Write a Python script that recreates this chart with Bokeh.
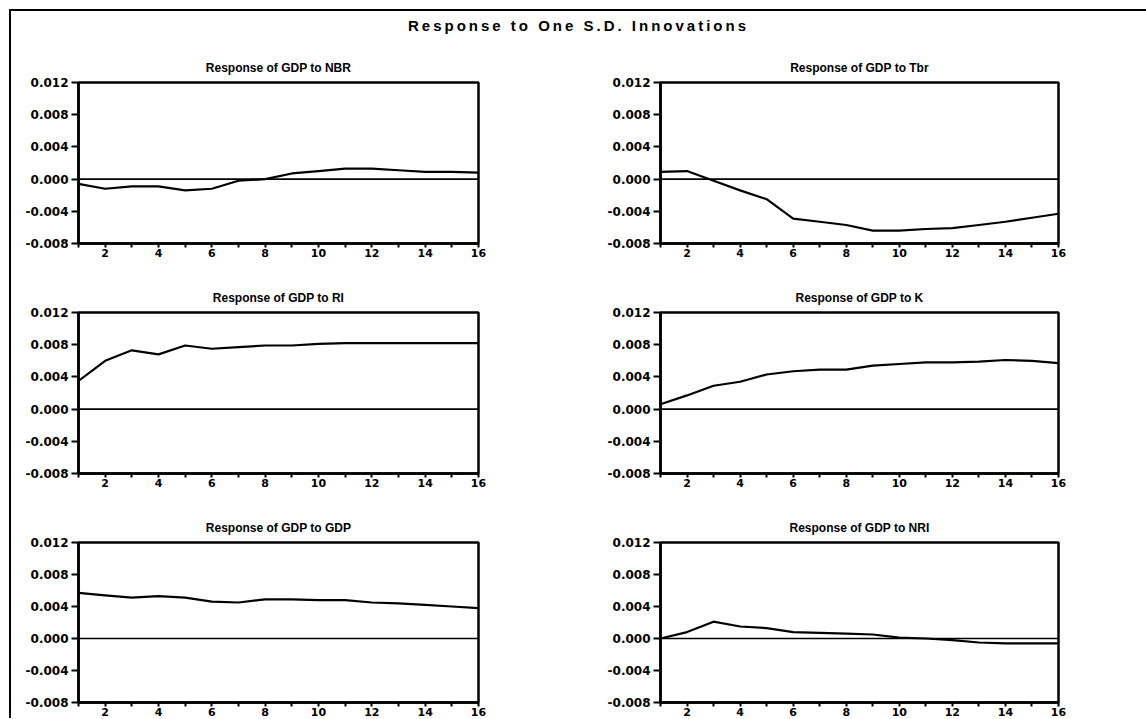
from bokeh.plotting import figure
from bokeh.layouts import column, row
from bokeh.models import Div, Span, FixedTicker, PrintfTickFormatter, Range1d
from bokeh.embed import file_html
from bokeh.resources import INLINE

# Impulse responses of GDP over a 16-period horizon
periods = list(range(1, 17))

resp_nbr = [-0.0006, -0.0012, -0.0009, -0.0009, -0.0014, -0.0012, -0.0002, 0.0000,
            0.0007, 0.0010, 0.0013, 0.0013, 0.0011, 0.0009, 0.0009, 0.0008]
resp_tbr = [0.0009, 0.0010, -0.0002, -0.0014, -0.0025, -0.0049, -0.0053, -0.0057,
            -0.0064, -0.0064, -0.0062, -0.0061, -0.0057, -0.0053, -0.0048, -0.0043]
resp_ri = [0.0035, 0.0060, 0.0073, 0.0068, 0.0079, 0.0075, 0.0077, 0.0079,
           0.0079, 0.0081, 0.0082, 0.0082, 0.0082, 0.0082, 0.0082, 0.0082]
resp_k = [0.0006, 0.0017, 0.0029, 0.0034, 0.0043, 0.0047, 0.0049, 0.0049,
          0.0054, 0.0056, 0.0058, 0.0058, 0.0059, 0.0061, 0.0060, 0.0057]
resp_gdp = [0.0057, 0.0054, 0.0051, 0.0053, 0.0051, 0.0046, 0.0045, 0.0049,
            0.0049, 0.0048, 0.0048, 0.0045, 0.0044, 0.0042, 0.0040, 0.0038]
resp_nri = [0.0000, 0.0008, 0.0021, 0.0015, 0.0013, 0.0008, 0.0007, 0.0006,
            0.0005, 0.0001, 0.0000, -0.0002, -0.0005, -0.0006, -0.0006, -0.0006]

titles = ["Response of GDP to NBR", "Response of GDP to Tbr",
          "Response of GDP to RI", "Response of GDP to K",
          "Response of GDP to GDP", "Response of GDP to NRI"]
series = [resp_nbr, resp_tbr, resp_ri, resp_k, resp_gdp, resp_nri]

y_ticks = [-0.008, -0.004, 0.000, 0.004, 0.008, 0.012]
x_ticks = periods
x_labels = {t: (str(t) if t % 2 == 0 else "") for t in x_ticks}

FONT = "Liberation Sans"
TICK_FONT = "DejaVu Sans"


def panel(title, values, left_col, last_row):
    if left_col:
        w, bl, br = 564, 67, 97
    else:
        w, bl, br = 571, 85, 88
    h = 208 if last_row else 230
    bb = h - 32 - 161
    p = figure(width=w, height=h, output_backend="svg", toolbar_location=None,
               x_range=Range1d(1, 16), y_range=Range1d(-0.008, 0.012),
               min_border_left=bl, min_border_right=br,
               min_border_top=32, min_border_bottom=bb,
               title=title)
    p.title.align = "center"
    p.title.vertical_align = "top"
    p.title.text_font = FONT
    p.title.text_font_size = "12px"
    p.title.text_font_style = "bold"
    p.title.text_color = "black"
    p.title.standoff = 12
    p.xgrid.visible = False
    p.ygrid.visible = False
    p.outline_line_color = "black"
    p.outline_line_width = 2.5
    p.outline_line_alpha = 1.0
    p.background_fill_color = "white"
    p.border_fill_color = "white"

    p.xaxis.ticker = FixedTicker(ticks=x_ticks)
    p.xaxis.major_label_overrides = x_labels
    p.xaxis.minor_tick_line_color = None
    p.xaxis.major_tick_in = 0
    p.xaxis.major_tick_out = 4
    p.xaxis.major_label_standoff = 1
    p.xaxis.major_label_text_font_size = "11px"

    p.yaxis.ticker = FixedTicker(ticks=y_ticks)
    p.yaxis.formatter = PrintfTickFormatter(format="%.3f")
    p.yaxis.minor_tick_line_color = None
    p.yaxis.major_tick_in = 0
    p.yaxis.major_tick_out = 7
    p.yaxis.major_label_standoff = 3
    p.yaxis.major_label_text_font_size = "12px"

    for ax in (p.xaxis, p.yaxis):
        ax.axis_line_color = "black"
        ax.axis_line_width = 2.5
        ax.major_tick_line_color = "black"
        ax.major_tick_line_width = 2
        ax.major_label_text_font = TICK_FONT
        ax.major_label_text_font_style = "bold"
        ax.major_label_text_color = "black"

    p.add_layout(Span(location=0, dimension="width", line_color="black",
                      line_width=1.6))
    p.line(periods, values, line_color="black", line_width=2.2)
    return p


figs = [panel(t, v, i % 2 == 0, i >= 4) for i, (t, v) in enumerate(zip(titles, series))]

header = Div(text="Response to One S.D. Innovations", width=1135, height=39,
             margin=(0, 0, 0, 0),
             styles={"font-family": FONT, "font-weight": "bold",
                     "font-size": "15px", "letter-spacing": "3px",
                     "text-align": "center", "color": "black",
                     "padding-top": "4px", "box-sizing": "border-box"})

layout = column(header,
                row(figs[0], figs[1]),
                row(figs[2], figs[3]),
                row(figs[4], figs[5]),
                margin=(9, 0, 0, 9),
                styles={"border-left": "2px solid black",
                        "border-top": "2px solid black"})

open("out.html", "w").write(file_html(layout, INLINE))
